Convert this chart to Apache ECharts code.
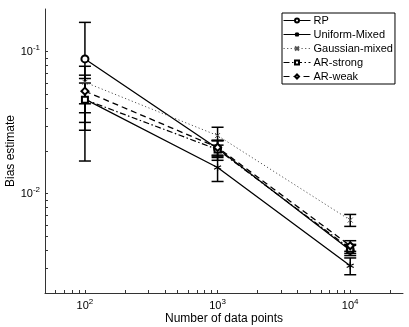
<!DOCTYPE html>
<html>
<head>
<meta charset="utf-8">
<script src="https://cdn.jsdelivr.net/npm/echarts@6/dist/echarts.min.js"></script>
<style>html,body{margin:0;padding:0;background:#fff;}#c{width:409px;height:327px;}</style>
</head>
<body>
<div id="c"></div>
<script>
const xValues = [100, 1000, 10000];
const seriesNames = ['RP', 'Uniform-Mixed', 'Gaussian-mixed', 'AR-strong', 'AR-weak'];
const rp = [0.089, 0.0208, 0.0040];
const rpErr = [0.072, 0.0028, 0.00033];
const uniform = [0.0464, 0.0153, 0.00311];
const uniformErr = [0.0184, 0.0031, 0.00042];
const gaussian = [0.061, 0.0257, 0.00652];
const gaussianErr = [0.018, 0.0037, 0.00063];
const arStrong = [0.046, 0.0205, 0.0041];
const arStrongErr = [0.0142, 0.0033, 0.0003];
const arWeak = [0.0528, 0.0212, 0.0043];
const arWeakErr = [0.0156, 0.0025, 0.00037];

const xTicks = [60,70,80,90,100,200,300,400,500,600,700,800,900,1000,2000,3000,4000,5000,6000,7000,8000,9000,10000,20000];
const xLabelValues = [100, 1000, 10000];
const yTicks = [0.003,0.004,0.005,0.006,0.007,0.008,0.009,0.01,0.02,0.03,0.04,0.05,0.06,0.07,0.08,0.09,0.1];
const yLabelValues = [0.01, 0.1];

const FONT = 'Liberation Sans';
const values = [rp, uniform, gaussian, arStrong, arWeak];
const errs = [rpErr, uniformErr, gaussianErr, arStrongErr, arWeakErr];
const asterisk = 'path://M0,-5L0,5M-4.33,-2.5L4.33,2.5M-4.33,2.5L4.33,-2.5';
const cross = 'path://M-4,-4L4,4M-4,4L4,-4';
const styles = [
  {symbol: 'emptyCircle', symbolSize: 7, line: {type: 'solid', width: 1.3, color: '#000'}, item: {color: '#000', borderWidth: 1}},
  {symbol: asterisk, symbolSize: 7, line: {type: 'solid', width: 1.3, color: '#000'}, item: {color: '#000', borderColor: '#000', borderWidth: 1.2}},
  {symbol: cross, symbolSize: 5, line: {type: [1.2, 2.4], width: 1, color: '#555'}, item: {color: '#555', borderColor: '#555', borderWidth: 1}},
  {symbol: 'emptyRect', symbolSize: 6, line: {type: [6, 2.5, 1.5, 2.5], width: 1.2, color: '#000'}, item: {color: '#000', borderWidth: 1}},
  {symbol: 'emptyDiamond', symbolSize: 7, line: {type: [6, 4], width: 1.3, color: '#000'}, item: {color: '#000', borderWidth: 1}}
];

function sup(v) {
  const e = Math.round(Math.log10(v));
  return '{b|10}{s|' + e + '}';
}
const rich = {
  b: {fontSize: 11, fontFamily: FONT, color: '#000'},
  s: {fontSize: 8, fontFamily: FONT, color: '#000', padding: [0, 0, 8, 0]}
};

const series = [];
seriesNames.forEach((name, i) => {
  series.push({
    name: name,
    type: 'line',
    data: xValues.map((x, j) => [x, values[i][j]]),
    symbol: styles[i].symbol,
    symbolSize: styles[i].symbolSize,
    showAllSymbol: true,
    lineStyle: styles[i].line,
    itemStyle: styles[i].item,
    z: 3,
    animation: false
  });
  series.push({
    name: name + ' error',
    type: 'custom',
    data: xValues.map((x, j) => [x, values[i][j] - errs[i][j], values[i][j] + errs[i][j]]),
    renderItem: function (params, api) {
      const top = api.coord([api.value(0), api.value(2)]);
      const bot = api.coord([api.value(0), api.value(1)]);
      const hw = 6;
      const st = {stroke: '#000', lineWidth: 1.5};
      return {
        type: 'group',
        children: [
          {type: 'line', shape: {x1: top[0], y1: top[1], x2: bot[0], y2: bot[1]}, style: st},
          {type: 'line', shape: {x1: top[0] - hw, y1: top[1], x2: top[0] + hw, y2: top[1]}, style: st},
          {type: 'line', shape: {x1: bot[0] - hw, y1: bot[1], x2: bot[0] + hw, y2: bot[1]}, style: st}
        ]
      };
    },
    z: 2,
    animation: false
  });
});

const chart = echarts.init(document.getElementById('c'), null, {renderer: 'canvas'});
chart.setOption({
  backgroundColor: '#fff',
  animation: false,
  grid: {left: 45, right: 6, top: 9, bottom: 34, containLabel: false, outerBoundsMode: 'none'},
  legend: {
    data: seriesNames,
    orient: 'vertical',
    left: 282,
    top: 13,
    padding: [2, 2, 2, 1],
    itemGap: 3,
    itemWidth: 27,
    itemHeight: 5,
    backgroundColor: '#fff',
    borderColor: '#000',
    borderWidth: 1,
    borderRadius: 0,
    lineStyle: {width: 1},
    textStyle: {fontSize: 11, fontFamily: FONT, color: '#000', padding: [0, 0, 0, -2]}
  },
  xAxis: {
    type: 'log',
    logBase: 10,
    min: 50,
    max: 25000,
    name: 'Number of data points',
    nameLocation: 'middle',
    nameGap: 20,
    nameMoveOverlap: false,
    nameTextStyle: {fontSize: 12, fontFamily: FONT, color: '#000'},
    axisLine: {lineStyle: {color: '#333', width: 1}},
    axisTick: {inside: true, length: 3, customValues: xTicks, lineStyle: {color: '#333'}},
    axisLabel: {customValues: xLabelValues, formatter: sup, rich: rich, margin: 5},
    splitLine: {show: false},
    minorTick: {show: false}
  },
  yAxis: {
    type: 'log',
    logBase: 10,
    min: 0.002,
    max: 0.2,
    name: 'Bias estimate',
    nameLocation: 'middle',
    nameGap: 28,
    nameRotate: 90,
    nameMoveOverlap: false,
    nameTextStyle: {fontSize: 12, fontFamily: FONT, color: '#000'},
    axisLine: {show: true, lineStyle: {color: '#333', width: 1}},
    axisTick: {show: true, inside: true, length: 3, customValues: yTicks, lineStyle: {color: '#333'}},
    axisLabel: {customValues: yLabelValues, formatter: sup, rich: rich, margin: 5},
    splitLine: {show: false}
  },
  series: series
});
</script>
</body>
</html>
